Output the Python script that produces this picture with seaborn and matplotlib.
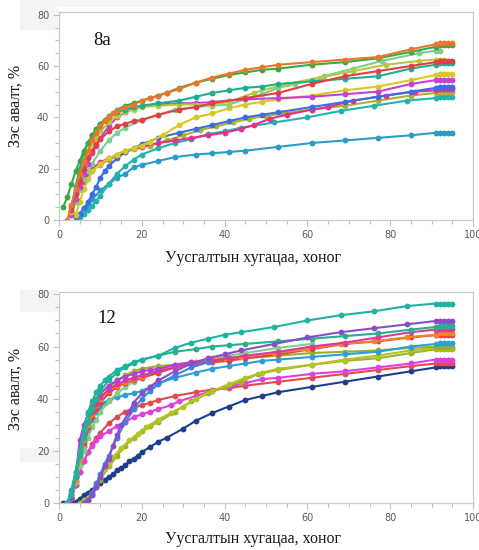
import numpy as np
import pandas as pd
import matplotlib
matplotlib.use("Agg")
import matplotlib.pyplot as plt
from matplotlib.ticker import MultipleLocator
from matplotlib.patches import Rectangle
import seaborn as sns

# ---------------- Panel "8a": copper recovery (%) vs leaching time (days) ----------------
a_orange_day = [2, 3, 4, 5, 6, 7, 8, 9, 10, 11, 12, 13, 14, 16, 18, 20, 22, 24, 26, 29, 33, 37, 41, 45, 49, 53, 61, 69, 77, 85, 91, 92, 93, 94, 95]
a_orange_val = [0, 6, 12, 18, 23, 27, 31, 34, 36.5, 38.5, 40, 41.5, 42.5, 44, 45, 46.5, 47.5, 48.5, 49.5, 51, 53.5, 55.5, 57, 58.5, 59.5, 60.5, 61.5, 62.5, 63.5, 66.5, 68.5, 69, 69, 69, 69]

a_green_day = [1, 2, 3, 4, 5, 6, 7, 8, 9, 10, 11, 12, 14, 16, 18, 20, 22, 24, 26, 29, 33, 37, 41, 45, 49, 53, 61, 69, 77, 85, 91, 92, 93, 94, 95]
a_green_val = [5, 9, 14, 19, 23, 27, 30, 33, 35.5, 37.5, 39, 40.5, 43, 44.5, 45.5, 46.5, 47.5, 48.5, 49.5, 51.5, 53.5, 55, 56.5, 57.5, 58.5, 59, 60.5, 61.5, 63, 65.5, 67.5, 68, 68, 68, 68]

a_mint_day = [3, 4, 5, 6, 7, 8, 10, 12, 14, 16, 20, 24, 28, 33, 37, 41, 45, 49, 53, 57, 61, 64, 71, 78, 87, 91, 92]
a_mint_val = [2, 7, 12, 16, 19, 22, 27, 31, 34, 36, 39, 41, 43, 44, 44.5, 45, 47, 49, 51.5, 53, 54.5, 56, 59, 62, 65, 66, 66]

a_lime_day = [3, 4, 5, 6, 7, 8, 9, 10, 12, 14, 16, 18, 20, 24, 29, 33, 37, 41, 47, 55, 63, 71, 79, 87, 91, 92, 93]
a_lime_val = [3, 10, 17, 22, 26, 29.5, 32, 34.5, 38, 40.5, 42, 43, 44, 44.5, 45, 45, 45, 46, 49.5, 53, 55.5, 58, 60.5, 62, 62.5, 62.5, 62.5]

a_red_day = [3, 4, 5, 6, 7, 8, 9, 10, 12, 14, 16, 18, 20, 24, 29, 33, 37, 45, 53, 61, 69, 77, 85, 91, 92, 93, 94, 95]
a_red_val = [4, 10, 15, 20, 24, 27, 29.5, 31.5, 34.5, 36.5, 37.5, 38.5, 39, 41, 43, 44, 45.5, 47.5, 49.5, 53, 56, 58, 60, 61.5, 62, 62, 62, 62]

a_teal_day = [3, 4, 5, 6, 7, 8, 9, 10, 12, 14, 16, 18, 20, 24, 29, 33, 37, 41, 45, 49, 53, 61, 69, 77, 85, 91, 92, 93, 94, 95]
a_teal_val = [5, 13, 20, 26, 30, 33, 35.5, 37.5, 40, 42, 43, 44, 44.5, 45.5, 46.5, 48, 49.5, 50.5, 51.5, 52, 53, 54, 55, 56, 59, 60.5, 61, 61, 61, 61]

a_yellow_day = [4, 5, 6, 7, 8, 10, 12, 14, 16, 18, 20, 22, 25, 29, 33, 37, 41, 45, 49, 53, 61, 69, 77, 85, 91, 92, 93, 94, 95]
a_yellow_val = [2, 7, 12, 16, 19, 22, 24, 25.5, 27, 28, 29, 30.5, 33, 37, 40, 41.5, 43.5, 45, 46, 47, 48.5, 50.5, 52, 54.5, 56.5, 57, 57, 57, 57]

a_violet_day = [3, 4, 5, 6, 7, 8, 9, 10, 12, 14, 16, 18, 20, 24, 29, 33, 37, 41, 45, 53, 61, 69, 77, 85, 91, 92, 93, 94, 95]
a_violet_val = [2, 8, 13, 18, 22, 26, 29, 32, 36.5, 40, 42, 43.5, 44.5, 45, 45.5, 45.5, 46, 46.5, 47, 47.5, 48, 49, 50, 53, 54.5, 54.5, 54.5, 54.5, 54.5]

a_blue_day = [4, 5, 6, 7, 8, 9, 10, 11, 12, 14, 16, 18, 20, 24, 29, 33, 37, 41, 45, 49, 53, 61, 69, 77, 85, 91, 92, 93, 94, 95]
a_blue_val = [1, 2.5, 4.5, 7, 10, 13, 16.5, 19, 21, 24, 26.5, 28, 29.5, 32, 34, 35.5, 37, 38.5, 40, 41, 42, 44, 46, 48, 50, 51.5, 52, 52, 52, 52]

a_pink_day = [3, 4, 5, 6, 7, 8, 10, 12, 14, 16, 20, 24, 28, 32, 36, 40, 44, 47, 51, 55, 61, 65, 71, 79, 86, 91, 92, 93, 94, 95]
a_pink_val = [3, 8, 12, 15, 18, 20, 22.5, 24, 25.5, 27, 28.5, 30, 31, 32, 33, 34, 35.5, 37, 39.5, 41, 43, 44, 46.5, 48.5, 50, 50.5, 51, 51, 51, 51]

a_olive_day = [3, 4, 5, 6, 7, 8, 10, 12, 14, 16, 18, 22, 26, 30, 34, 38, 42, 46, 50, 54, 61, 69, 77, 85, 91, 92, 93, 94, 95]
a_olive_val = [3, 8, 12, 15.5, 18, 19.5, 21.5, 23.5, 25, 26.5, 27.5, 29, 31, 33, 35, 36.5, 38, 39.5, 40.5, 41.5, 43, 44.5, 46.5, 48.5, 49.5, 50, 50, 50, 50]

a_sea_day = [4, 5, 6, 7, 8, 9, 10, 12, 14, 16, 18, 20, 24, 28, 32, 36, 40, 44, 52, 60, 68, 76, 84, 91, 92, 93, 94, 95]
a_sea_val = [0, 1, 2.5, 4, 5.5, 7.5, 9.5, 14, 18, 21, 23.5, 25.5, 28, 30, 31.5, 33.5, 34.5, 36, 38, 40, 42.5, 44.5, 46.5, 47.5, 48, 48, 48, 48]

a_steel_day = [4, 5, 6, 7, 8, 10, 12, 14, 16, 18, 20, 24, 28, 33, 37, 41, 45, 53, 61, 69, 77, 85, 91, 92, 93, 94, 95]
a_steel_val = [1, 2.5, 4.5, 6, 8, 11.5, 14, 16.5, 18, 20.5, 21.5, 23, 24.5, 25.5, 26, 26.5, 27, 28.5, 30, 31, 32, 33, 34, 34, 34, 34, 34]

# ---------------- Panel "12" ----------------
b_teal_day = [2, 3, 4, 5, 6, 7, 8, 9, 10, 11, 12, 14, 16, 18, 20, 24, 28, 32, 36, 40, 44, 52, 60, 68, 76, 84, 91, 92, 93, 94, 95]
b_teal_val = [0, 5, 12, 20, 28, 35, 39, 42.5, 45, 47, 48.5, 51, 52.5, 54, 55, 56.5, 59.5, 61.5, 63, 64.5, 65.5, 67.5, 70, 72, 73.5, 75.5, 76.5, 76.5, 76.5, 76.5, 76.5]

b_purple_day = [6, 7, 8, 9, 10, 11, 12, 13, 14, 15, 17, 18, 20, 22, 24, 28, 32, 36, 40, 44, 52, 60, 68, 76, 84, 91, 92, 93, 94, 95]
b_purple_val = [0, 1, 3, 6, 10, 14, 17, 22, 26, 30, 35, 38.5, 42, 44.5, 47, 50.5, 53.5, 55.5, 57, 58.5, 61, 63.5, 65.5, 67, 68.5, 69.8, 69.8, 69.8, 69.8, 69.8]

b_azure_day = [6, 7, 8, 9, 10, 11, 12, 14, 16, 18, 20, 22, 24, 28, 32, 36]
b_azure_val = [0, 1, 4, 7.5, 11, 15, 18, 25, 31, 36, 40, 43, 45.5, 49, 52, 54]

b_green_day = [2, 3, 4, 5, 6, 7, 8, 9, 10, 12, 14, 16, 18, 20, 24, 28, 33, 37, 41, 45, 53, 61, 69, 77, 85, 91, 92, 93, 94, 95]
b_green_val = [0, 3, 10, 18, 25, 31, 36, 40, 43, 47, 50, 52, 53.5, 55, 56.5, 58, 59, 60, 60.5, 61, 62, 63, 64, 65, 66.5, 67.5, 67.9, 67.9, 67.9, 67.9]

b_mint_day = [2, 3, 4, 5, 6, 7, 8, 9, 10, 12, 14, 16, 18, 20, 24, 28, 33, 37, 41, 45, 53, 61]
b_mint_val = [0, 3, 8, 14, 20, 25, 29, 32, 35, 39, 42, 44.5, 46.5, 48, 50, 52, 54, 55.5, 56.5, 57.5, 59.5, 61]

b_rose_day = [2, 3, 4, 5, 6, 7, 8, 9, 10, 12, 14, 16, 18, 20, 24, 28, 33, 37, 41, 45, 53, 61, 69, 77, 85, 91, 92, 93, 94, 95]
b_rose_val = [0, 4, 12, 20, 26, 31, 35, 38, 40.5, 43.5, 45.5, 47, 48, 49, 50.5, 52, 53.5, 54.5, 55.5, 56.5, 58, 60, 61.5, 63.5, 65.5, 66.5, 66.7, 66.7, 66.7, 66.7]

b_orange_day = [2, 3, 4, 5, 6, 7, 8, 9, 10, 12, 14, 16, 18, 20, 24, 28, 32, 36, 40, 44, 52, 60, 68, 76, 84, 91, 92, 93, 94, 95]
b_orange_val = [0, 2, 9, 17, 24, 30, 34, 37.5, 40, 43, 45, 46.5, 47.5, 48.5, 51, 53, 54, 55, 55.5, 56, 57.5, 59, 61, 62, 63.5, 64.5, 65, 65, 65, 65]

b_red_day = [2, 3, 4, 5, 6, 7, 8, 9, 10, 12, 14, 16, 18, 20, 24, 28, 33, 37, 41, 45, 53, 61, 69, 77, 85, 91, 92, 93, 94, 95]
b_red_val = [0, 3, 10, 17, 23, 29, 33, 36, 38.5, 42, 44.5, 46, 47, 48, 50, 52, 53.5, 54, 54.5, 55.5, 57, 59, 61, 62, 63.5, 64.4, 64.4, 64.4, 64.4, 64.4]

b_orchid_day = [3, 4, 5, 6, 7, 8, 9, 10, 12, 14, 16, 18, 20, 22, 24, 28, 32]
b_orchid_val = [2, 10, 24, 30, 34, 37, 40, 42, 45, 47, 48.5, 49.5, 50.5, 51, 51.5, 53, 54]

b_blue_day = [2, 3, 4, 5, 6, 7, 8, 9, 10, 11, 12, 14, 16, 18, 20, 22, 24, 28, 33, 37, 41, 45, 49, 53, 61, 69, 77, 85, 91, 92, 93, 94, 95]
b_blue_val = [0, 2, 8, 15, 22, 28, 32, 35, 37, 38.5, 39.5, 40.5, 41.5, 42, 43, 44.5, 46, 48, 50, 51.5, 52.5, 53.5, 54.5, 55, 56, 57, 58, 60, 61, 61.2, 61.2, 61.2, 61.2]

b_olive_day = [2, 3, 4, 5, 6, 7, 8, 9, 10, 12, 14, 16, 18, 20, 24, 28, 33, 37, 41, 45, 53, 61, 69, 77, 85, 91, 92, 93, 94, 95]
b_olive_val = [0, 2, 8, 15, 22, 28, 33, 37, 40, 44, 47, 49, 50.5, 51.5, 52.5, 53, 54, 54.5, 55, 55.5, 56.5, 57.5, 58, 58.5, 59.5, 59.9, 59.9, 59.9, 59.9, 59.9]

b_lime_day = [5, 6, 7, 8, 9, 10, 11, 12, 13, 15, 17, 19, 21, 24, 27, 30, 33, 37, 41, 45, 49, 53, 61, 69, 77, 85, 91, 92, 93, 94, 95]
b_lime_val = [0, 1, 2, 4, 7, 10, 13, 15, 17.5, 21, 24, 26.5, 29, 32, 34.5, 37, 40, 43, 45.5, 48, 50, 51.5, 53, 55, 56.5, 58.5, 59.5, 59.5, 59.5, 59.5, 59.5]

b_khaki_day = [7, 8, 9, 10, 12, 14, 16, 18, 20, 22, 24, 28, 32, 36, 40, 44, 48, 53, 61, 69, 77, 85, 91, 92, 93, 94, 95]
b_khaki_val = [1, 3, 6, 9, 14, 18, 22, 25, 27.5, 29.5, 31, 35, 39, 42, 44.5, 46.5, 49.5, 51, 53, 54.5, 55.5, 57.5, 59, 59, 59, 59, 59]

b_magenta_day = [2, 3, 4, 5, 6, 7, 8, 9, 10, 12, 14, 16, 18, 20, 22, 24, 27, 29, 33, 37, 41, 45, 49, 53, 61, 69, 77, 85, 91, 92, 93, 94, 95]
b_magenta_val = [0, 2, 7, 12, 16, 19.5, 22, 24, 25.5, 27.5, 29.5, 31, 33, 34, 35, 36, 37.5, 39, 41, 43, 44.5, 46, 47.5, 48, 49.5, 50.5, 52, 53.5, 55, 55, 55, 55, 55]

b_crimson_day = [2, 3, 4, 5, 6, 7, 8, 9, 10, 12, 14, 16, 18, 20, 22, 24, 28, 33, 37, 41, 45, 53, 61, 69, 77, 85, 91, 92, 93, 94, 95]
b_crimson_val = [0, 2, 7, 12, 16, 19.5, 22.5, 25, 27, 30.5, 33, 35, 36.5, 37.5, 38.5, 39.5, 41, 42.5, 43.5, 44, 45, 46.5, 48, 49.5, 51, 52.5, 53.5, 53.5, 53.5, 53.5, 53.5]

b_navy_day = [1, 2, 3, 4, 5, 6, 7, 8, 9, 10, 11, 12, 13, 14, 15, 16, 17, 18, 19, 20, 22, 24, 26, 30, 33, 37, 41, 45, 49, 53, 61, 69, 77, 85, 91, 92, 93, 94, 95]
b_navy_val = [0, 0, 0, 0.5, 1.5, 3, 4, 5, 6.5, 7.5, 9, 10, 11, 12.5, 13.5, 14.5, 16, 17, 18, 19.5, 21.5, 23.5, 25, 28.5, 31.5, 34.5, 37, 39.5, 41, 42.5, 44.5, 46.5, 48.5, 50.5, 52, 52.5, 52.5, 52.5, 52.5]

panel_a = [
    ("steel", "#2b9cc8", a_steel_day, a_steel_val),
    ("sea", "#22b3ae", a_sea_day, a_sea_val),
    ("olive", "#a8b22a", a_olive_day, a_olive_val),
    ("pink", "#e5308f", a_pink_day, a_pink_val),
    ("blue", "#3a6ee0", a_blue_day, a_blue_val),
    ("yellow", "#d8c922", a_yellow_day, a_yellow_val),
    ("mint", "#7ccf8e", a_mint_day, a_mint_val),
    ("violet", "#c63fda", a_violet_day, a_violet_val),
    ("lime", "#b9c83a", a_lime_day, a_lime_val),
    ("teal", "#1fae8e", a_teal_day, a_teal_val),
    ("red", "#e23f45", a_red_day, a_red_val),
    ("green", "#3aa845", a_green_day, a_green_val),
    ("orange", "#e8772e", a_orange_day, a_orange_val),
]

panel_b = [
    ("navy", "#1f3d8c", b_navy_day, b_navy_val),
    ("crimson", "#e34b4b", b_crimson_day, b_crimson_val),
    ("magenta", "#e03fe0", b_magenta_day, b_magenta_val),
    ("khaki", "#9fb22a", b_khaki_day, b_khaki_val),
    ("lime", "#b5c320", b_lime_day, b_lime_val),
    ("olive", "#9bb02a", b_olive_day, b_olive_val),
    ("blue", "#2c9fd6", b_blue_day, b_blue_val),
    ("mint", "#7fcf8a", b_mint_day, b_mint_val),
    ("red", "#e04040", b_red_day, b_red_val),
    ("orange", "#f0862a", b_orange_day, b_orange_val),
    ("rose", "#dc3a9a", b_rose_day, b_rose_val),
    ("orchid", "#b040d8", b_orchid_day, b_orchid_val),
    ("green", "#27b08a", b_green_day, b_green_val),
    ("azure", "#3f83e0", b_azure_day, b_azure_val),
    ("purple", "#8a4fc8", b_purple_day, b_purple_val),
    ("teal", "#1db39f", b_teal_day, b_teal_val),
]

x_label = "Уусгалтын хугацаа, хоног"
y_label = "Зэс авалт, %"
panel_tags = ["8a", "12"]

sns.set_style("white")
plt.rcParams["font.family"] = ["DejaVu Sans"]

fig = plt.figure(figsize=(4.79, 5.5), dpi=100)

# faint grey blocks behind the tick-label columns of the scanned page
for (x0, y0, w, h) in [(20, 0, 38, 30), (58, 0, 382, 7), (20, 290, 38, 22), (20, 448, 38, 14)]:
    fig.patches.append(Rectangle((x0 / 479, 1 - (y0 + h) / 550), w / 479, h / 550,
                                 transform=fig.transFigure, facecolor="#f4f4f4",
                                 edgecolor="none", zorder=-5))

ax_top = fig.add_axes([0.1232, 0.600, 0.8643, 0.378])
ax_bot = fig.add_axes([0.1232, 0.0855, 0.8643, 0.384])


def long_frame(series):
    rows = []
    for name, _, days, vals in series:
        for d, v in zip(days, vals):
            rows.append({"series": name, "day": d, "value": v})
    return pd.DataFrame(rows)


def draw_panel(ax, series, tag, tag_xy, xlab_y, ylab_y):
    df = long_frame(series)
    palette = {name: color for name, color, _, _ in series}
    order = [name for name, _, _, _ in series]
    sns.lineplot(data=df, x="day", y="value", hue="series", hue_order=order,
                 palette=palette, estimator=None, sort=False, legend=False,
                 marker="o", markersize=4.2, markeredgewidth=0, linewidth=1.5,
                 ax=ax)
    ax.set_zorder(2)
    ax.patch.set_alpha(0)
    ax.set_xlim(0, 100)
    ax.set_ylim(0, 81)
    ax.xaxis.set_major_locator(MultipleLocator(20))
    ax.xaxis.set_minor_locator(MultipleLocator(5))
    ax.yaxis.set_major_locator(MultipleLocator(20))
    ax.yaxis.set_minor_locator(MultipleLocator(5))
    ax.tick_params(which="both", direction="out", color="#c0c0c0",
                   labelcolor="#5a5a5a", labelsize=7, width=0.8)
    ax.tick_params(which="major", length=4, pad=3)
    ax.tick_params(which="minor", length=3)
    ax.tick_params(axis="x", bottom=True, which="both")
    ax.tick_params(axis="y", left=True, which="both")
    for sp in ax.spines.values():
        sp.set_color("#c8c8c8")
        sp.set_linewidth(0.9)
    ax.set_xlabel(x_label, family="Liberation Serif", fontsize=11.5, color="#1a1a1a")
    ax.set_ylabel(y_label, family="Liberation Serif", fontsize=11.5, color="#1a1a1a")
    ax.xaxis.set_label_coords(0.469, xlab_y)
    ax.yaxis.set_label_coords(-0.085, ylab_y)
    ax.text(tag_xy[0], tag_xy[1], tag, family="Liberation Serif", fontsize=13.5,
            color="#111111", va="center", ha="left")


draw_panel(ax_top, panel_a, panel_tags[0], (8.2, 70), -0.145, 0.55)
draw_panel(ax_bot, panel_b, panel_tags[1], (9.2, 70.9), -0.135, 0.54)

fig.savefig("out.png", dpi=100)
